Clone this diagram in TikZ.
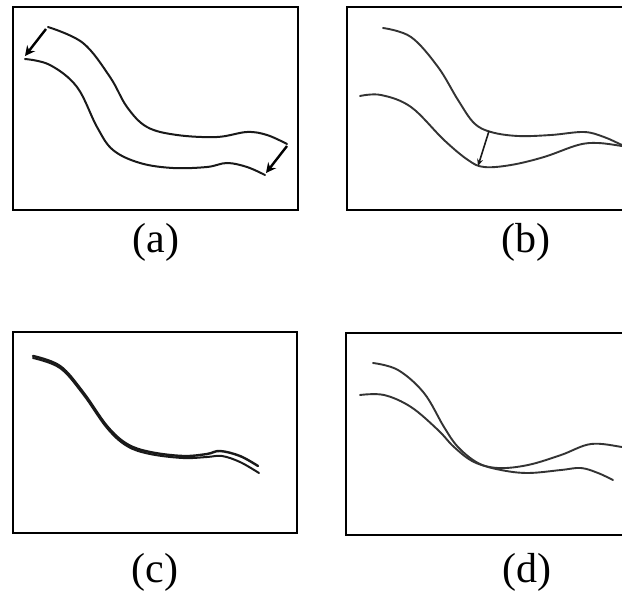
\documentclass[tikz,border=0pt]{standalone}
\usepackage{fontspec}
\setmainfont{Liberation Serif}
\usetikzlibrary{arrows.meta}
\tikzset{
  panel/.style={draw=black, line width=1.8pt},
  curve/.style={draw=black!90, line width=2pt, smooth, tension=0.6, line cap=round},
  thin curve/.style={draw=black!80, line width=1.9pt, smooth, tension=0.6, line cap=round},
  moveArrow/.style={draw=black, line width=2.4pt, -{Stealth[length=10pt,width=10pt]}},
  smallArrow/.style={draw=black!90, line width=1.6pt, -{Stealth[length=7pt,width=6pt]}},
  caption/.style={font=\fontsize{42}{48}\selectfont, inner sep=0pt}
}
\begin{document}
\begin{tikzpicture}[x=1pt,y=-1pt]
\useasboundingbox (0,0) rectangle (622,597);
\clip (0,0) rectangle (622,597);
% panel frames
\draw[panel] (13,7) rectangle (298,210);
\draw[panel] (347,7) rectangle (640,210);
\draw[panel] (13,332) rectangle (297,533);
\draw[panel] (346,333) rectangle (640,535);
% (a)
\draw[curve] plot coordinates {(48,27) (83,43) (110,77) (127,107) (147,127) (177,135) (217,137) (247,132) (267,135) (287,144)};
\draw[curve] plot coordinates {(25,59) (50,65) (77,87) (97,127) (113,150) (140,163) (173,168) (207,167) (227,163) (247,167) (265,175)};
\coordinate (a1s) at (46,29); \coordinate (a1e) at (25,56);
\coordinate (a2s) at (287,146); \coordinate (a2e) at (266,173);
\draw[moveArrow] (a1s) -- (a1e);
\draw[moveArrow] (a2s) -- (a2e);
\node[caption] (la) at (156,242) {(a)};
% (b)
\draw[thin curve] plot coordinates {(383,28) (411,37) (438,67) (458,100) (474,123) (491,132) (518,136) (551,135) (584,132) (604,137) (622,145) (630,148)};
\draw[thin curve] plot coordinates {(360,96) (381,95) (411,107) (444,140) (468,160) (484,167) (511,165) (544,157) (578,145) (598,143) (622,146) (630,147)};
\coordinate (bs) at (489,131); \coordinate (be) at (478,166);
\draw[smallArrow] (bs) -- (be);
\node[caption] (lb) at (526,242) {(b)};
% (c)
\draw[curve, line width=2.4pt] plot coordinates {(33,356) (60,366) (83,392) (107,426) (127,444) (150,452) (183,456) (207,454) (220,451) (240,456) (258,466)};
\draw[curve, line width=2pt] plot coordinates {(33,358) (60,368) (83,394) (107,428) (127,446) (150,454) (183,458) (207,457) (222,456) (240,462) (259,473)};
\node[caption] (lc) at (155,572) {(c)};
% (d)
\draw[thin curve] plot coordinates {(373,363) (398,370) (424,393) (444,427) (458,447) (478,463) (501,470) (528,473) (561,470) (581,468) (598,473) (613,480)};
\draw[thin curve] plot coordinates {(360,395) (384,395) (411,407) (438,430) (454,447) (474,462) (498,468) (528,465) (561,455) (591,444) (622,447) (630,449)};
\node[caption] (ld) at (527,572) {(d)};
\end{tikzpicture}
\end{document}
